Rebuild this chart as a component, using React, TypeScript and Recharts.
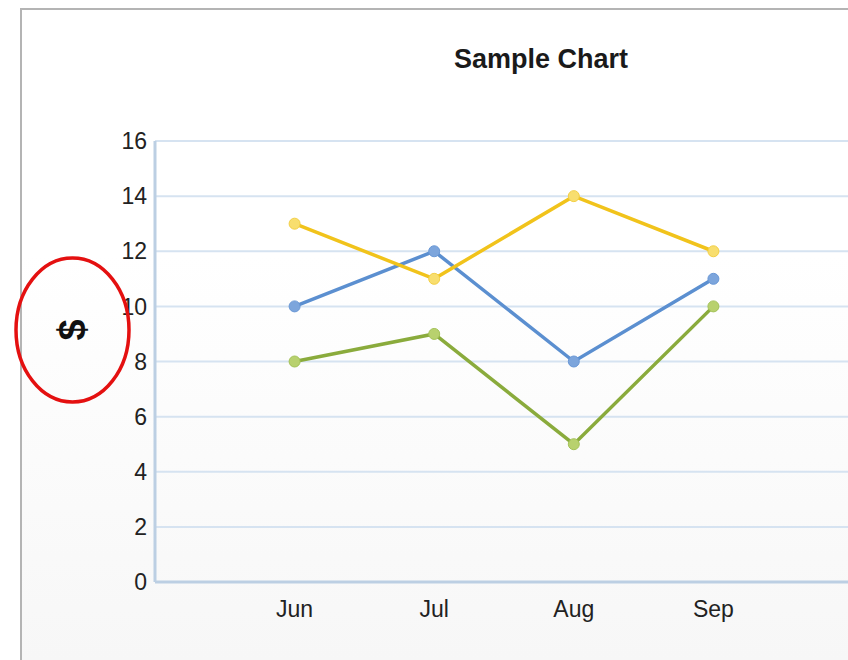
import { LineChart, Line, XAxis, YAxis, CartesianGrid } from "recharts"

const months = ["Jun", "Jul", "Aug", "Sep"]
const blueSeries = [10, 12, 8, 11]
const yellowSeries = [13, 11, 14, 12]
const greenSeries = [8, 9, 5, 10]
const yTicks = [0, 2, 4, 6, 8, 10, 12, 14, 16]
const xTicks = [1, 2, 3, 4]

const data = months.map((month, i) => ({
  x: i + 1,
  month,
  blue: blueSeries[i],
  yellow: yellowSeries[i],
  green: greenSeries[i],
}))

const font = "'Liberation Sans', Arial, sans-serif"

export default function App() {
  return (
    <div
      style={{
        position: "absolute",
        left: 0,
        top: 0,
        width: 848,
        height: 660,
        overflow: "hidden",
        background: "#fff",
        fontFamily: font,
      }}
    >
      <div
        style={{
          position: "absolute",
          left: 20,
          top: 8,
          width: 900,
          height: 700,
          borderLeft: "2px solid #b4b4b4",
          borderTop: "2px solid #b4b4b4",
          background: "linear-gradient(#ffffff 0%, #ffffff 35%, #f6f6f6 100%)",
        }}
      />
      <div
        style={{
          position: "absolute",
          left: 0,
          top: 44,
          width: 1082,
          textAlign: "center",
          fontSize: 27,
          fontWeight: "bold",
          color: "#1a1a1a",
        }}
      >
        Sample Chart
      </div>
      <div style={{ position: "absolute", left: 0, top: 0 }}>
        <LineChart width={900} height={660} data={data} margin={{ top: 141, right: 47, bottom: 38, left: 0 }}>
          <CartesianGrid horizontal vertical={false} stroke="#d6e3f1" strokeWidth={2} />
          <XAxis
            type="number"
            dataKey="x"
            domain={[0, 5]}
            ticks={xTicks}
            tickFormatter={(v) => months[v - 1]}
            height={40}
            tickLine={false}
            tickMargin={13}
            axisLine={{ stroke: "#bccfe3", strokeWidth: 3 }}
            tick={{ fill: "#222", fontSize: 23, fontFamily: font }}
          />
          <YAxis
            type="number"
            domain={[0, 16]}
            ticks={yTicks}
            width={155}
            tickLine={false}
            axisLine={{ stroke: "#bccfe3", strokeWidth: 3 }}
            tick={{ fill: "#222", fontSize: 23, fontFamily: font }}
          />
          <Line
            dataKey="blue"
            stroke="#5b8fd0"
            strokeWidth={3.5}
            dot={{ r: 5.5, fill: "#7ca5dc", stroke: "#6a98d6", strokeWidth: 1 }}
            isAnimationActive={false}
          />
          <Line
            dataKey="green"
            stroke="#8aab3c"
            strokeWidth={3.5}
            dot={{ r: 5.5, fill: "#b8d16e", stroke: "#a3c257", strokeWidth: 1 }}
            isAnimationActive={false}
          />
          <Line
            dataKey="yellow"
            stroke="#f1c31b"
            strokeWidth={3.5}
            dot={{ r: 5.5, fill: "#f8de6e", stroke: "#f3cf45", strokeWidth: 1 }}
            isAnimationActive={false}
          />
        </LineChart>
      </div>
      <div
        style={{
          position: "absolute",
          left: 52,
          top: 310,
          width: 40,
          height: 40,
          lineHeight: "40px",
          textAlign: "center",
          fontSize: 38,
          fontWeight: "bold",
          color: "#111",
          transform: "rotate(-90deg)",
        }}
      >
        $
      </div>
      <svg width={848} height={660} style={{ position: "absolute", left: 0, top: 0, pointerEvents: "none" }}>
        <ellipse cx={72.5} cy={330} rx={56.5} ry={72} fill="none" stroke="#e41010" strokeWidth={3.5} />
      </svg>
    </div>
  )
}
